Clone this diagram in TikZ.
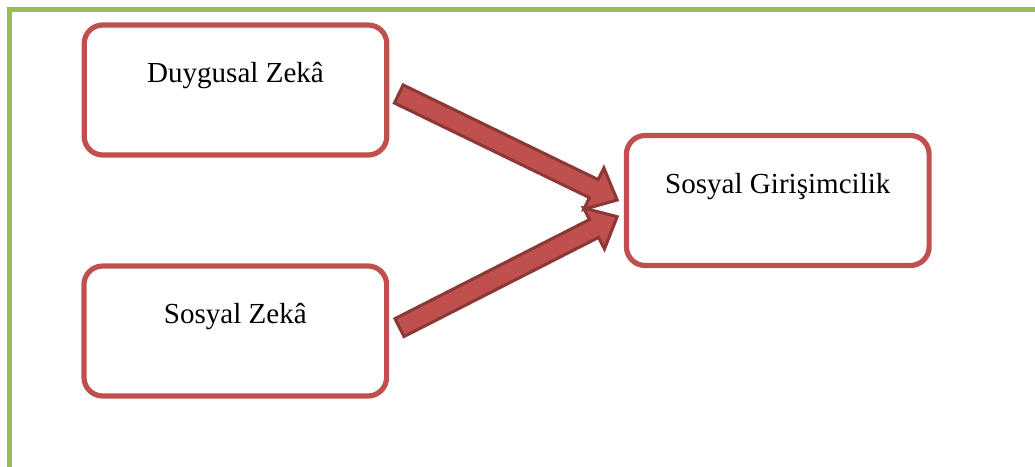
\documentclass[tikz,border=0pt]{standalone}
\usepackage{fontspec}
\setmainfont{Liberation Serif}
\usetikzlibrary{calc}
\definecolor{framegreen}{HTML}{9BBB59}
\definecolor{boxred}{HTML}{C0504D}
\definecolor{arrowedge}{HTML}{8C3836}
\tikzset{
  idea/.style={draw=boxred, line width=3.9pt, rounded corners=14pt, fill=white,
    minimum width=227pt, minimum height=97.5pt, inner sep=0pt},
  caption/.style={anchor=base, font=\fontsize{21.8pt}{26pt}\selectfont, inner sep=0pt},
  blockarrow/.style={fill=boxred, draw=arrowedge, line width=2.3pt, line join=miter}
}
% draws a block arrow from tail coordinate #1 to tip coordinate #2
\newcommand{\blockarrowpath}[2]{%
  \coordinate (#1-h) at ($(#2)!19.5pt!(#1)$);
  \draw[blockarrow]
    ($(#1)!7.5pt!90:(#2)$) -- ($(#1-h)!7.5pt!90:(#2)$) -- ($(#1-h)!17.25pt!90:(#2)$)
    -- (#2)
    -- ($(#1-h)!17.25pt!-90:(#2)$) -- ($(#1-h)!7.5pt!-90:(#2)$) -- ($(#1)!7.5pt!-90:(#2)$)
    -- cycle;}
\begin{document}
\begin{tikzpicture}[x=0.75pt, y=-0.75pt]
  \useasboundingbox (0,0) rectangle (1035,467);
  % outer frame (top and left edges)
  \draw[framegreen, line width=3.9pt, line join=miter] (1045,9.3) -- (9.3,9.3) -- (9.3,480);

  % boxes
  \node[idea] (duygusal) at (235.5,90) {};
  \node[idea] (sosyal) at (235.3,331) {};
  \node[idea] (girisim) at (777.8,200.5) {};

  % labels
  \node[caption] (tduygusal) at ($(duygusal.north)+(0,60.5)$) {Duygusal Zekâ};
  \node[caption] (tsosyal) at ($(sosyal.north)+(0,60.5)$) {Sosyal Zekâ};
  \node[caption] (tgirisim) at ($(girisim.north)+(0,60.5)$) {Sosyal Girişimcilik};

  % block arrows
  \coordinate (upT) at (398.8,94);
  \coordinate (upP) at (617.2,200);
  \coordinate (loT) at (399.5,327.6);
  \coordinate (loP) at (617.2,216.7);
  \blockarrowpath{upT}{upP}
  \blockarrowpath{loT}{loP}
\end{tikzpicture}
\end{document}
